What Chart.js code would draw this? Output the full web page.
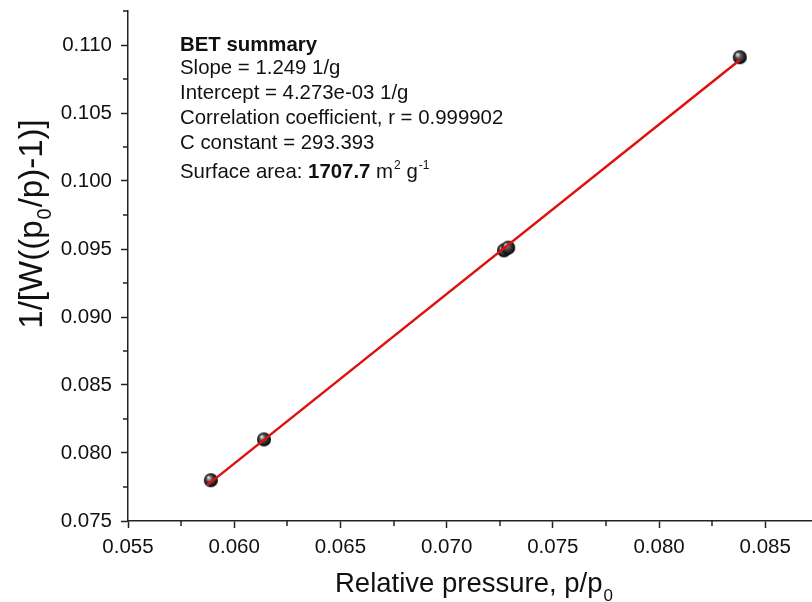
<!DOCTYPE html>
<html>
<head>
<meta charset="utf-8">
<script src="https://cdn.jsdelivr.net/npm/chart.js@4/dist/chart.umd.min.js"></script>
<style>
html,body{margin:0;padding:0;background:#fff;overflow:hidden;}
#wrap{width:812px;height:602px;position:relative;}
</style>
</head>
<body>
<div id="wrap"><canvas id="c" width="812" height="602"></canvas></div>
<script>
// ---- data ----
const pressure = [0.0589, 0.0614, 0.0727, 0.0729, 0.0838];
const betValue = [0.0780, 0.0810, 0.0949, 0.0951, 0.1091];
const fitPressure = [0.0587, 0.0838];
const fitValue = [0.0776, 0.1089];
const xTicks = [0.055, 0.060, 0.065, 0.070, 0.075, 0.080, 0.085];
const xMinorTicks = [0.0575, 0.0625, 0.0675, 0.0725, 0.0775, 0.0825];
const yTicks = [0.075, 0.080, 0.085, 0.090, 0.095, 0.100, 0.105, 0.110];
const yMinorTicks = [0.0775, 0.0825, 0.0875, 0.0925, 0.0975, 0.1025, 0.1075, 0.1125];
const xTitle = ['Relative pressure, p/p', '0'];
const yTitle = ['1/[W((p', '0', '/p)-1)]'];
const summaryTitle = 'BET summary';
const summaryLines = [
  'Slope = 1.249 1/g',
  'Intercept = 4.273e-03 1/g',
  'Correlation coefficient, r = 0.999902',
  'C constant = 293.393'
];
const areaLabel = 'Surface area: ';
const areaValue = '1707.7';

const FONT = '"Liberation Sans", Arial, sans-serif';
const INK = '#111111';

// sphere marker
function makeSphere(r){
  const c = document.createElement('canvas');
  const s = r*2+2;
  c.width = s; c.height = s;
  const g = c.getContext('2d');
  const grad = g.createRadialGradient(s/2-r*0.35, s/2-r*0.4, r*0.1, s/2, s/2, r);
  grad.addColorStop(0, '#d8d8d8');
  grad.addColorStop(0.35, '#555555');
  grad.addColorStop(1, '#000000');
  g.fillStyle = grad;
  g.beginPath(); g.arc(s/2, s/2, r, 0, Math.PI*2); g.fill();
  return c;
}
const sphere = makeSphere(7);

const decorPlugin = {
  id: 'decor',
  afterDraw(chart){
    const ctx = chart.ctx;
    const xs = chart.scales.x, ys = chart.scales.y;
    ctx.save();
    // minor ticks
    ctx.strokeStyle = '#222';
    ctx.lineWidth = 1.5;
    ctx.beginPath();
    xMinorTicks.forEach(v => {
      const px = Math.round(xs.getPixelForValue(v));
      if (px <= xs.right){ ctx.moveTo(px, xs.top); ctx.lineTo(px, xs.top + 5); }
    });
    yMinorTicks.forEach(v => {
      const py = Math.round(ys.getPixelForValue(v));
      ctx.moveTo(ys.right, py); ctx.lineTo(ys.right - 5, py);
    });
    ctx.stroke();

    ctx.fillStyle = INK;
    ctx.textAlign = 'left';
    ctx.textBaseline = 'alphabetic';
    // x title
    ctx.font = '27.5px ' + FONT;
    let w0 = ctx.measureText(xTitle[0]).width;
    let sx = 335;
    ctx.fillText(xTitle[0], sx, 592);
    ctx.font = '17px ' + FONT;
    ctx.fillText(xTitle[1], sx + w0 + 1, 601);

    // y title
    const YF = '33px ', YS = '20px ';
    ctx.save();
    ctx.translate(42, 225);
    ctx.rotate(-Math.PI/2);
    ctx.font = YF + FONT;
    const a = ctx.measureText(yTitle[0]).width;
    const c2 = ctx.measureText(yTitle[2]).width;
    ctx.font = YS + FONT;
    const b = ctx.measureText(yTitle[1]).width;
    let yx = -(a + b + c2)/2;
    ctx.font = YF + FONT;
    ctx.fillText(yTitle[0], yx, 0);
    ctx.font = YS + FONT;
    ctx.fillText(yTitle[1], yx + a + 1, 9);
    ctx.font = YF + FONT;
    ctx.fillText(yTitle[2], yx + a + b + 2, 0);
    ctx.restore();

    // summary box
    const tx = 180;
    const F = '20.4px ';
    ctx.font = 'bold ' + F + FONT;
    ctx.fillText(summaryTitle, tx, 51);
    ctx.font = F + FONT;
    const bases = [74, 99, 124, 149];
    summaryLines.forEach((t, i) => ctx.fillText(t, tx, bases[i]));
    let x = tx;
    const by = 178;
    ctx.font = F + FONT;
    ctx.fillText(areaLabel, x, by); x += ctx.measureText(areaLabel).width;
    ctx.font = 'bold ' + F + FONT;
    ctx.fillText(areaValue, x, by); x += ctx.measureText(areaValue).width;
    ctx.font = F + FONT;
    ctx.fillText(' m', x, by); x += ctx.measureText(' m').width;
    ctx.font = '12px ' + FONT;
    ctx.fillText('2', x + 1, by - 9); x += ctx.measureText('2').width + 1;
    ctx.font = F + FONT;
    ctx.fillText(' g', x, by); x += ctx.measureText(' g').width;
    ctx.font = '12px ' + FONT;
    ctx.fillText('-1', x + 1, by - 9);
    ctx.restore();
  }
};

new Chart(document.getElementById('c'), {
  type: 'scatter',
  data: {
    datasets: [
      {
        type: 'line',
        label: 'Linear fit',
        data: fitPressure.map((v, i) => ({x: v, y: fitValue[i]})),
        borderColor: '#e01010',
        borderWidth: 2.5,
        pointRadius: 0,
        fill: false,
        order: 0
      },
      {
        label: 'BET points',
        data: pressure.map((v, i) => ({x: v, y: betValue[i]})),
        pointStyle: sphere,
        pointRadius: 7,
        order: 1
      }
    ]
  },
  options: {
    responsive: false,
    animation: false,
    events: [],
    layout: { autoPadding: false, padding: { top: 11, right: 0, left: 0, bottom: 0 } },
    plugins: { legend: { display: false }, tooltip: { enabled: false } },
    scales: {
      x: {
        type: 'linear',
        min: 0.055, max: 0.0872,
        afterBuildTicks: s => { s.ticks = xTicks.map(v => ({value: v})); },
        afterFit: s => { s.height = 81; s.paddingLeft = 0; s.paddingRight = 0; },
        ticks: {
          callback: v => v.toFixed(3),
          font: { family: FONT, size: 20.5 },
          color: INK,
          padding: 7,
          maxRotation: 0,
          autoSkip: false
        },
        grid: { drawOnChartArea: false, drawTicks: true, tickLength: 7, tickColor: '#222', tickWidth: 1.5 },
        border: { display: true, color: '#222', width: 1.5 }
      },
      y: {
        type: 'linear',
        min: 0.075, max: 0.1125,
        afterBuildTicks: s => { s.ticks = yTicks.map(v => ({value: v})); },
        afterFit: s => { s.width = 128; s.paddingTop = 0; s.paddingBottom = 0; },
        ticks: {
          callback: v => v.toFixed(3),
          font: { family: FONT, size: 20.5 },
          color: INK,
          padding: 9,
          autoSkip: false
        },
        grid: { drawOnChartArea: false, drawTicks: true, tickLength: 7, tickColor: '#222', tickWidth: 1.5 },
        border: { display: true, color: '#222', width: 1.5 }
      }
    }
  },
  plugins: [decorPlugin]
});
</script>
</body>
</html>
